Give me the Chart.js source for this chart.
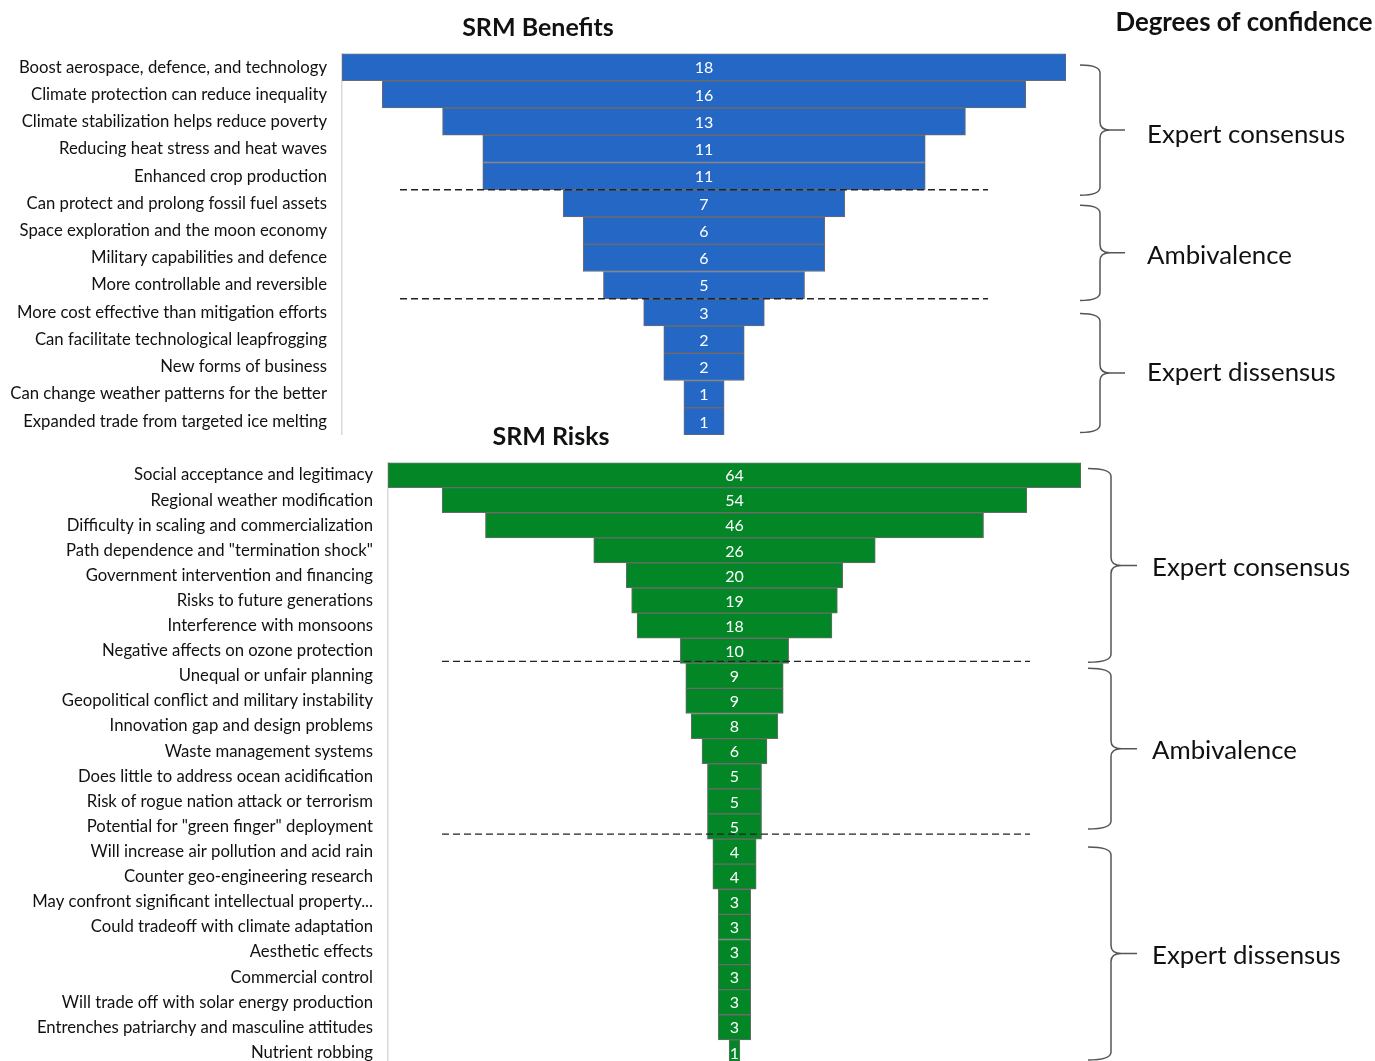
<!DOCTYPE html>
<html>
<head>
<meta charset="utf-8">
<script src="https://cdn.jsdelivr.net/npm/chart.js@4.4.1/dist/chart.umd.min.js"></script>
<style>
  html, body { margin: 0; padding: 0; background: #fff; overflow: hidden; }
  .box { position: absolute; left: 0; width: 1375px; }
  #topBox { top: 0; height: 460px; }
  #botBox { top: 420px; height: 670px; }
</style>
</head>
<body>
<div class="box" id="topBox"><canvas id="benefits"></canvas></div>
<div class="box" id="botBox"><canvas id="risks"></canvas></div>
<script>
const FONT = 'Lato, "Open Sans", sans-serif';

const benefitLabels = [
  'Boost aerospace, defence, and technology',
  'Climate protection can reduce inequality',
  'Climate stabilization helps reduce poverty',
  'Reducing heat stress and heat waves',
  'Enhanced crop production',
  'Can protect and prolong fossil fuel assets',
  'Space exploration and the moon economy',
  'Military capabilities and defence',
  'More controllable and reversible',
  'More cost effective than mitigation efforts',
  'Can facilitate technological leapfrogging',
  'New forms of business',
  'Can change weather patterns for the better',
  'Expanded trade from targeted ice melting'
];
const benefitValues = [18, 16, 13, 11, 11, 7, 6, 6, 5, 3, 2, 2, 1, 1];
// rows per group: consensus, ambivalence, dissensus
const benefitGroups = [5, 4, 5];

const riskLabels = [
  'Social acceptance and legitimacy',
  'Regional weather modification',
  'Difficulty in scaling and commercialization',
  'Path dependence and "termination shock"',
  'Government intervention and financing',
  'Risks to future generations',
  'Interference with monsoons',
  'Negative affects on ozone protection',
  'Unequal or unfair planning',
  'Geopolitical conflict and military instability',
  'Innovation gap and design problems',
  'Waste management systems',
  'Does little to address ocean acidification',
  'Risk of rogue nation attack or terrorism',
  'Potential for "green finger" deployment',
  'Will increase air pollution and acid rain',
  'Counter geo-engineering research',
  'May confront significant intellectual property...',
  'Could tradeoff with climate adaptation',
  'Aesthetic effects',
  'Commercial control',
  'Will trade off with solar energy production',
  'Entrenches patriarchy and masculine attitudes',
  'Nutrient robbing'
];
const riskValues = [64, 54, 46, 26, 20, 19, 18, 10, 9, 9, 8, 6, 5, 5, 5, 4, 4, 3, 3, 3, 3, 3, 3, 1];
const riskGroups = [8, 7, 9];

const groupNames = ['Expert consensus', 'Ambivalence', 'Expert dissensus'];

function drawBrace(ctx, x0, xs, xt, top, bottom) {
  const mid = (top + bottom) / 2;
  const r = 8;
  ctx.beginPath();
  ctx.moveTo(x0, top);
  ctx.quadraticCurveTo(xs, top, xs, top + r);
  ctx.lineTo(xs, mid - r);
  ctx.quadraticCurveTo(xs, mid, xs + (xt - xs) * 0.4, mid);
  ctx.lineTo(xt, mid);
  ctx.moveTo(xs + (xt - xs) * 0.4, mid);
  ctx.quadraticCurveTo(xs, mid, xs, mid + r);
  ctx.lineTo(xs, bottom - r);
  ctx.quadraticCurveTo(xs, bottom, x0, bottom);
  ctx.stroke();
}

// draws value labels, dashed group separators, braces and titles
const funnelDecor = {
  id: 'funnelDecor',
  afterDatasetsDraw(chart, args, opts) {
    const ctx = chart.ctx;
    const xs = chart.scales.x;
    const ys = chart.scales.y;
    const meta = chart.getDatasetMeta(0);
    const vals = opts.values;
    ctx.save();
    ctx.fillStyle = '#ffffff';
    ctx.font = '16px ' + FONT;
    ctx.textAlign = 'center';
    ctx.textBaseline = 'middle';
    meta.data.forEach((bar, i) => {
      ctx.fillText(String(vals[i]), xs.getPixelForValue(0), bar.y + 1);
    });

    const rowH = (ys.bottom - ys.top) / vals.length;
    let start = 0;
    ctx.strokeStyle = '#222';
    ctx.lineWidth = 1.3;
    opts.groups.forEach((n, g) => {
      const end = start + n;
      if (g < opts.groups.length - 1) {
        const y = ys.top + end * rowH + opts.dashShift[g];
        ctx.setLineDash([7, 4]);
        ctx.beginPath();
        ctx.moveTo(opts.dashX[0], y);
        ctx.lineTo(opts.dashX[1], y);
        ctx.stroke();
        ctx.setLineDash([]);
      }
      start = end;
    });

    start = 0;
    ctx.strokeStyle = '#555';
    ctx.lineWidth = 1.5;
    ctx.fillStyle = '#111';
    ctx.font = '25.8px ' + FONT;
    ctx.textAlign = 'left';
    opts.groups.forEach((n, g) => {
      const end = start + n;
      const top = ys.top + start * rowH + opts.braceInset[g][0];
      const bottom = ys.top + end * rowH - opts.braceInset[g][1];
      drawBrace(ctx, opts.braceX[0], opts.braceX[1], opts.braceX[2], top, bottom);
      ctx.fillText(groupNames[g], opts.textX, (top + bottom) / 2 + opts.textShift[g]);
      start = end;
    });

    ctx.textAlign = 'center';
    opts.titles.forEach(t => {
      ctx.font = 'bold ' + t.size + 'px ' + FONT;
      ctx.fillText(t.text, t.x, t.y);
    });
    ctx.restore();
  }
};

function makeFunnel(id, labels, values, color, range, axisWidth, padding, decor) {
  return new Chart(document.getElementById(id), {
    type: 'bar',
    data: {
      labels: labels,
      datasets: [{
        data: values.map(v => [-v / 2, v / 2]),
        backgroundColor: color,
        borderColor: '#6b6b6b',
        borderWidth: 1,
        borderSkipped: false,
        barPercentage: 1,
        categoryPercentage: 1
      }]
    },
    options: {
      indexAxis: 'y',
      responsive: true,
      maintainAspectRatio: false,
      animation: false,
      layout: { padding: padding },
      plugins: {
        legend: { display: false },
        tooltip: { enabled: false },
        funnelDecor: decor
      },
      scales: {
        x: { display: false, min: -range, max: range },
        y: {
          grid: { display: false, drawTicks: false },
          border: { display: true, color: '#d9d9d9', width: 1.5 },
          ticks: { color: '#111', font: { family: FONT, size: 16.7 }, padding: 15, autoSkip: false },
          afterFit(scale) { scale.width = axisWidth; }
        }
      }
    },
    plugins: [funnelDecor]
  });
}

makeFunnel('benefits', benefitLabels, benefitValues, '#2467c4', 9, 342,
  { top: 53.5, bottom: 10.5, left: 0, right: 309 },
  {
    values: benefitValues,
    groups: benefitGroups,
    dashX: [400, 988],
    dashShift: [0, 0],
    braceX: [1080, 1100, 1125],
    braceInset: [[11.5, -5.5], [15.5, -1.7], [14.7, 2.5]],
    textShift: [5, 3, 0],
    textX: 1147,
    titles: [
      { text: 'SRM Benefits', x: 538, y: 28, size: 25 },
      { text: 'Degrees of confidence', x: 1244, y: 23, size: 25.8 }
    ]
  });

makeFunnel('risks', riskLabels, riskValues, '#038726', 32, 388,
  { top: 42.5, bottom: 10.3, left: 0, right: 294 },
  {
    values: riskValues,
    groups: riskGroups,
    dashX: [442, 1030],
    dashShift: [-2, -5],
    braceX: [1088, 1111, 1137],
    braceInset: [[6, 1], [5, 10], [8, 5]],
    textShift: [2, 2, 2],
    textX: 1152,
    titles: [
      { text: 'SRM Risks', x: 551, y: 17, size: 25 }
    ]
  });
</script>
</body>
</html>
